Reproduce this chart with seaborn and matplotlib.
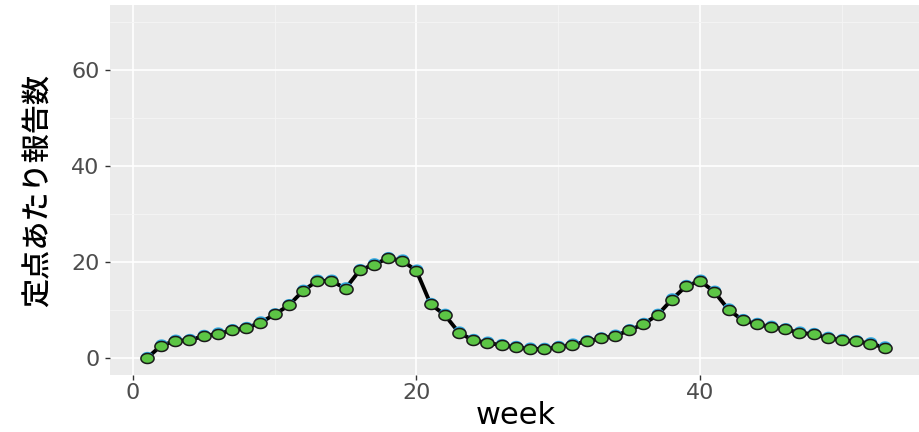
import numpy as np
import pandas as pd
import matplotlib
matplotlib.use("Agg")
import matplotlib.pyplot as plt
import matplotlib.transforms as mtransforms
from matplotlib.path import Path
import seaborn as sns

# 週ごとの定点あたり報告数
weeks = list(range(1, 54))
reports = [0.0, 2.6, 3.6, 3.75, 4.6, 5.1, 5.8, 6.25, 7.4, 9.1,
           11.0, 14.0, 16.1, 16.1, 14.5, 18.3, 19.5, 20.8, 20.3, 18.2,
           11.25, 9.0, 5.3, 3.75, 3.2, 2.7, 2.3, 1.95, 1.9, 2.3,
           2.8, 3.5, 4.1, 4.65, 5.8, 7.1, 9.0, 12.2, 15.0, 16.1,
           13.8, 10.1, 7.9, 7.1, 6.5, 6.0, 5.3, 5.0, 4.2, 3.75,
           3.5, 3.05, 2.2]

x_ticks = [0, 20, 40]
y_ticks = [0, 20, 40, 60]

df = pd.DataFrame({"week": weeks, "count": reports})

sns.set_theme(style="darkgrid")
plt.rcParams['font.family'] = ['DejaVu Sans', 'Noto Sans CJK JP']

# 横長の楕円マーカー
t = np.linspace(0, 2 * np.pi, 40)
oval = Path(np.column_stack([0.5 * np.cos(t), 0.38 * np.sin(t)]), closed=True)

fig = plt.figure(figsize=(9.2, 4.32), dpi=100)
ax = fig.add_axes([0.1196, 0.132, 0.882, 0.856])
ax.set_facecolor("#EBEBEB")

sns.lineplot(data=df, x="week", y="count", color="black", linewidth=2.8, ax=ax, zorder=2)
# 下の層（青）を少し上にずらして描く
shift = mtransforms.offset_copy(ax.transData, fig=fig, x=0.5, y=1.6, units="dots")
ax.scatter(df["week"], df["count"], s=80, marker=oval, color="#2FA8E0",
           edgecolor="none", transform=shift, zorder=3)
sns.scatterplot(data=df, x="week", y="count", color="#5CC545", edgecolor="#1A1A1A",
                linewidth=1.1, s=90, marker=oval, ax=ax, zorder=4)

ax.set_xlim(-1.6, 55.6)
ax.set_ylim(-3.5, 73.5)
ax.set_xticks(x_ticks)
ax.set_yticks(y_ticks)
ax.set_xticks([10, 30, 50], minor=True)
ax.set_yticks([10, 30, 50, 70], minor=True)
ax.grid(which="major", color="white", linewidth=1.2)
ax.grid(which="minor", color="#F5F5F5", linewidth=0.6)
ax.tick_params(which="major", direction="out", length=3.5, width=1, color="#333333",
               labelsize=16, labelcolor="#4D4D4D", bottom=True, left=True)
ax.tick_params(axis="y", pad=4)
ax.tick_params(axis="x", pad=2)
ax.tick_params(which="minor", length=0)
for s in ax.spines.values():
    s.set_visible(False)

ax.set_xlabel("week", fontsize=22, color="black", labelpad=-1)
ax.set_ylabel("定点あたり報告数", fontsize=21, color="black", labelpad=13,
              fontweight="medium", family=['Noto Sans CJK JP', 'DejaVu Sans'])

fig.savefig("out.png", dpi=100)
